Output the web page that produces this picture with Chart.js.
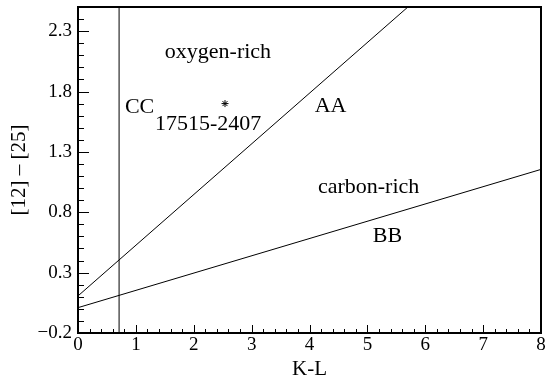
<!DOCTYPE html>
<html>
<head>
    <title>K-L vs [12]-[25]</title>
    <style>
        body { margin: 0; background: #fff; }
    </style>
</head>
<body>
    <canvas id="chartId" width="550" height="382"></canvas>

    <script src="https://cdn.jsdelivr.net/npm/chart.js@4.4.1/dist/chart.umd.min.js"></script>

    <script>
        // axis ticks
        var xTicks = [0, 1, 2, 3, 4, 5, 6, 7, 8];
        var yTicks = [-0.2, 0.3, 0.8, 1.3, 1.8, 2.3];

        // line AA (steep boundary)
        var aaX = [0, 5.70];
        var aaY = [0.107, 2.50];
        // line BB (shallow)
        var bbX = [0, 8];
        var bbY = [0.01, 1.155];
        // line CC (vertical K-L cut)
        var ccX = [0.71, 0.71];
        var ccY = [-0.2, 2.5];
        // the marked source
        var srcX = [2.54];
        var srcY = [1.70];

        var serif = '"Liberation Serif", "Times New Roman", serif';

        function pts(xs, ys) {
            return xs.map(function (x, i) { return { x: x, y: ys[i] }; });
        }

        // text labels, placed in data units (left, baseline)
        var notes = [
            { text: 'oxygen-rich', x: 1.50, y: 2.078 },
            { text: 'CC', x: 0.81, y: 1.623 },
            { text: '17515-2407', x: 1.33, y: 1.482 },
            { text: 'AA', x: 4.09, y: 1.631 },
            { text: 'carbon-rich', x: 4.145, y: 0.96 },
            { text: 'BB', x: 5.095, y: 0.554 }
        ];

        // frame, inward ticks and labels
        var framePlugin = {
            id: 'frame',
            afterDatasetsDraw: function (chart) {
                var ctx = chart.ctx;
                var a = chart.chartArea;
                var xs = chart.scales.x, ys = chart.scales.y;
                ctx.save();
                ctx.strokeStyle = '#000';
                ctx.lineWidth = 1;
                ctx.beginPath();
                // x ticks every 0.2, major every 1
                for (var i = 0; i <= 40; i++) {
                    var px = Math.round(xs.getPixelForValue(i * 0.2)) + 0.5;
                    var len = (i % 5 === 0) ? 8 : 4;
                    ctx.moveTo(px, a.bottom);
                    ctx.lineTo(px, a.bottom - len);
                }
                // y ticks every 0.1, major on yTicks
                for (var j = 0; j <= 27; j++) {
                    var v = -0.2 + j * 0.1;
                    var py = Math.round(ys.getPixelForValue(v)) + 0.5;
                    var ln = (j % 5 === 0) ? 11 : 6;
                    ctx.moveTo(a.left, py);
                    ctx.lineTo(a.left + ln, py);
                }
                ctx.stroke();
                ctx.lineWidth = 2;
                ctx.strokeRect(a.left, a.top, a.right - a.left, a.bottom - a.top);

                ctx.fillStyle = '#000';
                ctx.font = '22px ' + serif;
                ctx.textAlign = 'left';
                ctx.textBaseline = 'alphabetic';
                notes.forEach(function (n) {
                    ctx.fillText(n.text, xs.getPixelForValue(n.x), ys.getPixelForValue(n.y));
                });
                ctx.restore();
            }
        };

        var chrt = document.getElementById('chartId').getContext('2d');
        var chartId = new Chart(chrt, {
            type: 'scatter',
            data: {
                datasets: [
                    { data: pts(aaX, aaY), showLine: true, borderColor: '#000', borderWidth: 1, pointRadius: 0 },
                    { data: pts(bbX, bbY), showLine: true, borderColor: '#000', borderWidth: 1, pointRadius: 0 },
                    { data: pts(ccX, ccY), showLine: true, borderColor: '#000', borderWidth: 1, pointRadius: 0 },
                    { data: pts(srcX, srcY), pointStyle: 'star', pointRadius: 3.5, borderColor: '#000', borderWidth: 1 }
                ]
            },
            options: {
                responsive: false,
                animation: false,
                layout: { padding: { left: 0, top: 7, right: 9, bottom: 0 } },
                plugins: {
                    legend: { display: false },
                    tooltip: { enabled: false }
                },
                scales: {
                    x: {
                        type: 'linear',
                        min: 0,
                        max: 8,
                        grid: { display: false, drawTicks: false },
                        border: { display: false },
                        afterBuildTicks: function (s) { s.ticks = xTicks.map(function (v) { return { value: v }; }); },
                        afterFit: function (s) { s.height = 49; s.paddingLeft = 0; s.paddingRight = 0; },
                        ticks: {
                            color: '#000',
                            padding: 1,
                            maxRotation: 0,
                            font: { family: serif, size: 19 }
                        },
                        title: {
                            display: true,
                            text: 'K-L',
                            color: '#000',
                            padding: { top: 0, bottom: 0 },
                            font: { family: serif, size: 21 }
                        }
                    },
                    y: {
                        type: 'linear',
                        min: -0.2,
                        max: 2.5,
                        grid: { display: false, drawTicks: false },
                        border: { display: false },
                        afterBuildTicks: function (s) { s.ticks = yTicks.map(function (v) { return { value: v }; }); },
                        afterFit: function (s) { s.width = 78; s.paddingTop = 0; s.paddingBottom = 0; },
                        ticks: {
                            color: '#000',
                            padding: 6,
                            font: { family: serif, size: 19 },
                            callback: function (v) {
                                var t = Math.abs(v).toFixed(1);
                                return v < 0 ? '\u2212' + t : t;
                            }
                        },
                        title: {
                            display: true,
                            text: '[12] \u2013 [25]',
                            color: '#000',
                            padding: { top: 7, bottom: 0 },
                            font: { family: serif, size: 21 }
                        }
                    }
                }
            },
            plugins: [framePlugin]
        });
    </script>
</body>
</html>
